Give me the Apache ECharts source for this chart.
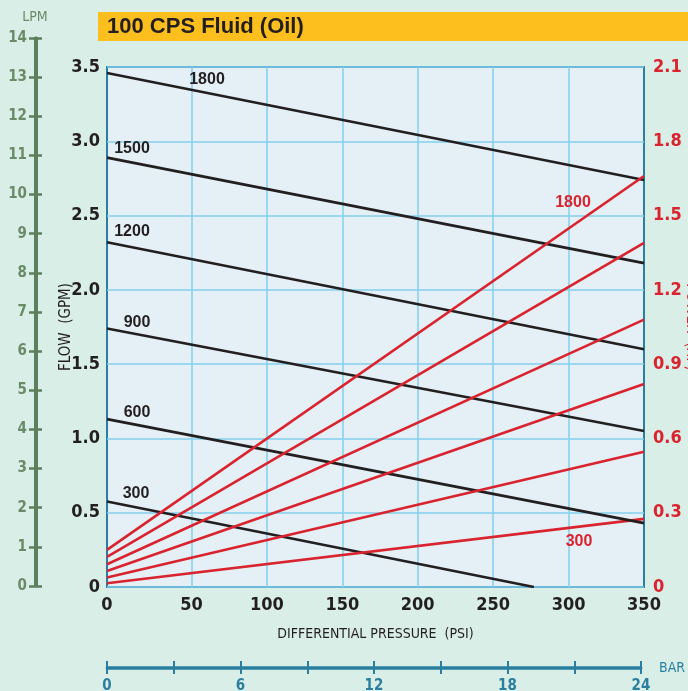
<!DOCTYPE html>
<html>
<head>
<meta charset="utf-8">
<script src="https://cdn.jsdelivr.net/npm/echarts@6/dist/echarts.min.js"></script>
<style>
html,body{margin:0;padding:0;background:#d9eee7;}
#c{width:688px;height:691px;}
</style>
</head>
<body>
<div id="c"></div>
<script>
// ---- data ----
const titleText = '100 CPS Fluid (Oil)';
const rpm = [300, 600, 900, 1200, 1500, 1800];
const psiLeft = -6;          // left edge of the plotted pressure range
const psiRight = 350;
const flowStart = [0.575, 1.13, 1.74, 2.32, 2.89, 3.46];   // GPM at left edge
const flowEnd = [0, 0.43, 1.05, 1.60, 2.18, 2.74];          // GPM at end point
const flowEndPsi = [277, 350, 350, 350, 350, 350];
const hpStart = [0.015, 0.038, 0.065, 0.092, 0.122, 0.15];  // HP at left edge
const hpEnd = [0.275, 0.546, 0.82, 1.08, 1.39, 1.66];       // HP at 350 psi
const psiTicks = [0, 50, 100, 150, 200, 250, 300, 350];
const lpmMax = 14;
const barMax = 24;
const barLabels = [0, 6, 12, 18, 24];

// ---- styles ----
const BLACK = '#231f20', RED = '#d9232e', TEAL = '#2a7fa0', GRID = '#85cfee', GREEN = '#5d7f5b', GREEN_T = '#6a8b68';
const NUMFONT = '"Liberation Sans Narrow","DejaVu Sans Condensed","Arial Narrow",sans-serif';
const blackLabelOffset = {1800: [100, 7], 1500: [25, -9], 1200: [25, -11], 900: [30, -6], 600: [30, -7], 300: [29, -8]};
const redLabelOffset = {1800: [-71, 27], 300: [-65, 23]};

const series = [];
rpm.forEach((r, i) => {
  const off = blackLabelOffset[r];
  series.push({
    type: 'line', xAxisIndex: 0, yAxisIndex: 0, silent: true,
    symbol: 'circle', symbolSize: 1, itemStyle: {color: 'rgba(0,0,0,0)'},
    lineStyle: {color: BLACK, width: 2.6},
    data: [
      {value: [psiLeft, flowStart[i]], label: {show: true, formatter: String(r), position: 'inside', offset: off,
        color: BLACK, fontSize: 16, fontWeight: 'bold', fontFamily: '"Liberation Sans",Arial,sans-serif'}},
      [flowEndPsi[i], flowEnd[i]]
    ]
  });
  const roff = redLabelOffset[r];
  const endPt = roff ? {value: [psiRight, hpEnd[i]], label: {show: true, formatter: String(r), position: 'inside', offset: roff,
        color: RED, fontSize: 16, fontWeight: 'bold', fontFamily: '"Liberation Sans",Arial,sans-serif'}} : [psiRight, hpEnd[i]];
  series.push({
    type: 'line', xAxisIndex: 0, yAxisIndex: 1, silent: true,
    symbol: 'circle', symbolSize: 1, itemStyle: {color: 'rgba(0,0,0,0)'},
    lineStyle: {color: RED, width: 2.6},
    data: [[psiLeft, hpStart[i]], endPt]
  });
});

const chart = echarts.init(document.getElementById('c'), null, {renderer: 'canvas'});
chart.setOption({
  backgroundColor: '#d9eee7',
  animation: false,
  title: {
    text: titleText, left: 98, top: 12,
    backgroundColor: '#fdbf1e',
    padding: [4, 500, 3, 9],
    textStyle: {color: BLACK, fontSize: 22, fontWeight: 'bold', fontFamily: '"Liberation Sans",Arial,sans-serif', lineHeight: 22}
  },
  grid: [
    {left: 107, top: 67, width: 537, height: 520, show: true, backgroundColor: '#e4f0f5', borderColor: TEAL, borderWidth: 2,
      containLabel: false, outerBoundsMode: 'none'},
    {left: 35, top: 38, width: 1, height: 548, containLabel: false, outerBoundsMode: 'none'},
    {left: 107, top: 667, width: 534, height: 1, containLabel: false, outerBoundsMode: 'none'}
  ],
  xAxis: [
    {type: 'value', gridIndex: 0, min: psiLeft, max: psiRight,
      name: 'DIFFERENTIAL PRESSURE  (PSI)', nameLocation: 'middle', nameGap: 40,
      nameTextStyle: {color: BLACK, fontSize: 14, fontFamily: NUMFONT},
      axisLine: {show: false},
      axisTick: {show: false, customValues: psiTicks.slice(1, -1)},
      splitLine: {show: true, lineStyle: {color: GRID, width: 1.5}},
      axisLabel: {customValues: [psiLeft].concat(psiTicks.slice(1)), formatter: v => v < 0 ? '0' : String(v),
        color: BLACK, fontSize: 18, fontWeight: 'bold', fontFamily: NUMFONT, margin: 9}},
    {type: 'value', gridIndex: 1, show: false},
    {type: 'value', gridIndex: 2, min: 0, max: barMax, interval: 3, position: 'bottom',
      name: 'BAR', nameLocation: 'end', nameGap: 18,
      nameTextStyle: {color: TEAL, fontSize: 14, fontFamily: NUMFONT, verticalAlign: 'middle'},
      axisLine: {lineStyle: {color: TEAL, width: 2.5}},
      axisTick: {length: 6, lineStyle: {color: TEAL, width: 2}},
      splitLine: {show: false},
      axisLabel: {customValues: barLabels, color: TEAL, fontSize: 15, fontWeight: 'bold', fontFamily: NUMFONT, margin: 11}},
    {type: 'value', gridIndex: 2, min: 0, max: barMax, interval: 3, position: 'top',
      axisLine: {lineStyle: {color: TEAL, width: 2.5}},
      axisTick: {length: 6, lineStyle: {color: TEAL, width: 2}},
      splitLine: {show: false}, axisLabel: {show: false}}
  ],
  yAxis: [
    {type: 'value', gridIndex: 0, min: 0, max: 3.5, interval: 0.5,
      name: 'FLOW  (GPM)', nameLocation: 'middle', nameGap: 33, nameRotate: 90, nameMoveOverlap: false,
      nameTextStyle: {color: BLACK, fontSize: 15, fontFamily: NUMFONT},
      axisLine: {show: false}, axisTick: {show: false},
      splitLine: {show: true, lineStyle: {color: GRID, width: 1.5}},
      axisLabel: {formatter: v => v === 0 ? '0' : v.toFixed(1), color: BLACK, fontSize: 18, fontWeight: 'bold', fontFamily: NUMFONT, margin: 7}},
    {type: 'value', gridIndex: 0, position: 'right', min: 0, max: 2.1, interval: 0.3,
      name: 'POWER  (HP)', nameLocation: 'middle', nameGap: 39, nameRotate: -90, nameMoveOverlap: false,
      nameTextStyle: {color: RED, fontSize: 15, fontFamily: NUMFONT},
      axisLine: {show: false}, axisTick: {show: false}, splitLine: {show: false},
      axisLabel: {formatter: v => v === 0 ? '0' : v.toFixed(1), color: RED, fontSize: 18, fontWeight: 'bold', fontFamily: NUMFONT, margin: 9}},
    {type: 'value', gridIndex: 1, position: 'left', min: 0, max: lpmMax, interval: 1,
      name: 'LPM', nameLocation: 'end', nameGap: 14,
      nameTextStyle: {color: GREEN_T, fontSize: 14, fontFamily: NUMFONT},
      axisLine: {lineStyle: {color: GREEN, width: 3}},
      axisTick: {length: 6, lineStyle: {color: GREEN, width: 2.5}},
      splitLine: {show: false},
      axisLabel: {color: GREEN_T, fontSize: 15, fontWeight: 'bold', fontFamily: NUMFONT, margin: 8}},
    {type: 'value', gridIndex: 1, position: 'right', min: 0, max: lpmMax, interval: 1,
      axisLine: {lineStyle: {color: GREEN, width: 3}},
      axisTick: {length: 6, lineStyle: {color: GREEN, width: 2.5}},
      splitLine: {show: false}, axisLabel: {show: false}},
    {type: 'value', gridIndex: 2, show: false}
  ],
  series: series
});
</script>
</body>
</html>
